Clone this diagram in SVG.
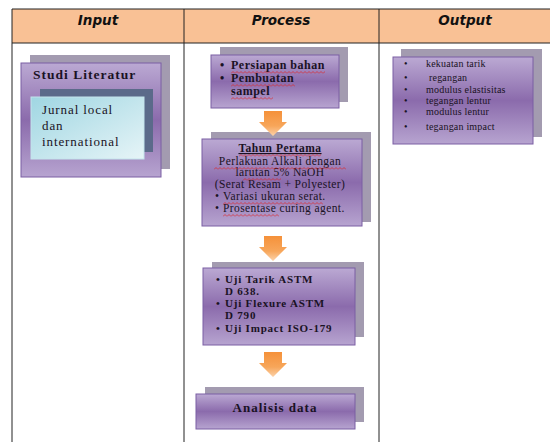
<svg xmlns="http://www.w3.org/2000/svg" width="550" height="442" viewBox="0 0 550 442">
<defs>
<linearGradient id="purp" x1="0" y1="0" x2="0" y2="1">
<stop offset="0" stop-color="#bba9d3"/>
<stop offset="0.5" stop-color="#8b6bac"/>
<stop offset="1" stop-color="#b7a4d0"/>
</linearGradient>
<linearGradient id="cyan" x1="0" y1="0" x2="1" y2="1">
<stop offset="0" stop-color="#9fd6e2"/>
<stop offset="1" stop-color="#e6f4f7"/>
</linearGradient>
<linearGradient id="orng" x1="0" y1="0" x2="0" y2="1">
<stop offset="0" stop-color="#f5913a"/>
<stop offset="0.6" stop-color="#f7a65a"/>
<stop offset="1" stop-color="#fcd2aa"/>
</linearGradient>
<pattern id="wavy" width="4" height="3" patternUnits="userSpaceOnUse">
<path d="M0 2.5 L2 0.5 L4 2.5" fill="none" stroke="#e02020" stroke-width="0.7"/>
</pattern>
<path id="arr" d="M-9 0 H9 V11 H14 L0 25 L-14 11 H-9 Z"/>
</defs>
<style>
.grid{stroke:#222;stroke-width:1;fill:none}
.hdr{font-family:"DejaVu Sans",Verdana,sans-serif;font-weight:bold;font-style:italic;font-size:13.5px;fill:#111;text-anchor:middle}
.sh{fill:#a39bb0}
.fr{fill:url(#purp);stroke:#7b5ea3;stroke-width:1}
.t{font-family:"Liberation Serif","Times New Roman",serif;fill:#1a1224}
.b{font-weight:bold}
.s12{font-size:12px;letter-spacing:0.5px}
.s11{font-size:11.5px;letter-spacing:0.4px}
.u{font-size:11px;letter-spacing:0.8px}
.s10{font-size:10px;letter-spacing:0.2px}
.c{text-anchor:middle}
.sq{fill:url(#wavy)}
.ar{fill:url(#orng)}
</style>
<!-- table -->
<rect x="12" y="9" width="540" height="34" fill="#f9c195"/>
<g class="grid">
<line x1="12" y1="9" x2="550" y2="9"/>
<line x1="12" y1="43" x2="550" y2="43"/>
<line x1="12" y1="9" x2="12" y2="442"/>
<line x1="184" y1="9" x2="184" y2="442"/>
<line x1="379" y1="9" x2="379" y2="442"/>
</g>
<text class="hdr" x="98" y="25">Input</text>
<text class="hdr" x="281" y="25">Process</text>
<text class="hdr" x="465" y="25">Output</text>

<g id="studi-literatur">
<rect class="sh" x="30" y="55" width="140" height="114"/>
<rect class="fr" x="21" y="63" width="140" height="114"/>
<text class="t b" x="33" y="79" style="font-size:13.5px;letter-spacing:1px">Studi Literatur</text>
</g>
<g id="jurnal">
<rect x="40" y="89" width="113" height="63" fill="#5b6a8a"/>
<rect x="31" y="97" width="113" height="62" fill="url(#cyan)" stroke="#c4e4ec" stroke-width="1"/>
<text class="t" x="42" y="114" style="font-size:13px;letter-spacing:0.9px">Jurnal local</text>
<text class="t" x="42" y="130" style="font-size:13px;letter-spacing:0.9px">dan</text>
<text class="t" x="42" y="146" style="font-size:13px;letter-spacing:0.9px">international</text>
</g>

<g id="persiapan">
<rect class="sh" x="220" y="47" width="128" height="55"/>
<rect class="fr" x="211" y="55" width="128" height="53"/>
<text class="t b s12" x="220" y="69">•</text>
<text class="t b s12" x="231" y="69">Persiapan bahan</text>
<text class="t b s12" x="220" y="82">•</text>
<text class="t b s12" x="231" y="82">Pembuatan</text>
<text class="t b s12" x="231" y="95">sampel</text>
<rect class="sq" transform="translate(231,71)" width="94" height="3"/>
<rect class="sq" transform="translate(231,84)" width="64" height="3"/>
<rect class="sq" transform="translate(231,97)" width="42" height="3"/>
</g>

<g id="tahun-pertama">
<rect class="sh" x="211" y="132" width="160" height="90"/>
<rect class="fr" x="202" y="139" width="160" height="87"/>
<text class="t b c" x="280" y="152" text-decoration="underline" style="font-size:11.5px;letter-spacing:0.5px">Tahun Pertama</text>
<text class="t s11 c" x="280" y="165">Perlakuan Alkali dengan</text>
<text class="t s11 c" x="280" y="176">larutan 5% NaOH</text>
<text class="t s11 c" x="280" y="188">(Serat Resam + Polyester)</text>
<text class="t s11" x="215" y="200">•</text>
<text class="t s11" x="223" y="200">Variasi ukuran serat.</text>
<text class="t s11" x="215" y="212">•</text>
<text class="t s11" x="223" y="212">Prosentase curing agent.</text>
<rect class="sq" transform="translate(239,154)" width="82" height="3"/>
<rect class="sq" transform="translate(214,167)" width="132" height="3"/>
<rect class="sq" transform="translate(243,178)" width="38" height="3"/>
<rect class="sq" transform="translate(223,202)" width="100" height="3"/>
<rect class="sq" transform="translate(223,214)" width="56" height="3"/>
</g>

<g id="uji">
<rect class="sh" x="212" y="262" width="152" height="75"/>
<rect class="fr" x="203" y="268" width="152" height="77"/>
<text class="t b u" x="216" y="283">•</text>
<text class="t b u" x="225" y="283">Uji Tarik ASTM</text>
<text class="t b u" x="225" y="295">D 638.</text>
<text class="t b u" x="216" y="307">•</text>
<text class="t b u" x="225" y="307">Uji Flexure ASTM</text>
<text class="t b u" x="225" y="319">D 790</text>
<text class="t b u" x="216" y="332">•</text>
<text class="t b u" x="225" y="332">Uji Impact ISO-179</text>
</g>

<g id="analisis">
<rect class="sh" x="205" y="387" width="159" height="35"/>
<rect class="fr" x="196" y="394" width="159" height="35"/>
<text class="t b c" x="275" y="412" style="font-size:13px;letter-spacing:1px">Analisis data</text>
</g>

<g id="output">
<rect class="sh" x="401" y="49" width="141" height="88"/>
<rect class="fr" x="393" y="57" width="140" height="87"/>
<g class="t s10">
<text x="404" y="67">•</text><text x="426" y="67">kekuatan tarik</text>
<text x="404" y="81">•</text><text x="429" y="81">regangan</text>
<text x="404" y="93">•</text><text x="426" y="93">modulus elastisitas</text>
<text x="404" y="104">•</text><text x="426" y="104">tegangan lentur</text>
<text x="404" y="115">•</text><text x="426" y="115">modulus lentur</text>
<text x="404" y="130">•</text><text x="426" y="130">tegangan impact</text>
</g>
</g>

<g id="connectors">
<use href="#arr" class="ar" transform="translate(273,111)"/>
<use href="#arr" class="ar" transform="translate(273,236)"/>
<use href="#arr" class="ar" transform="translate(273,352)"/>
</g>
</svg>
